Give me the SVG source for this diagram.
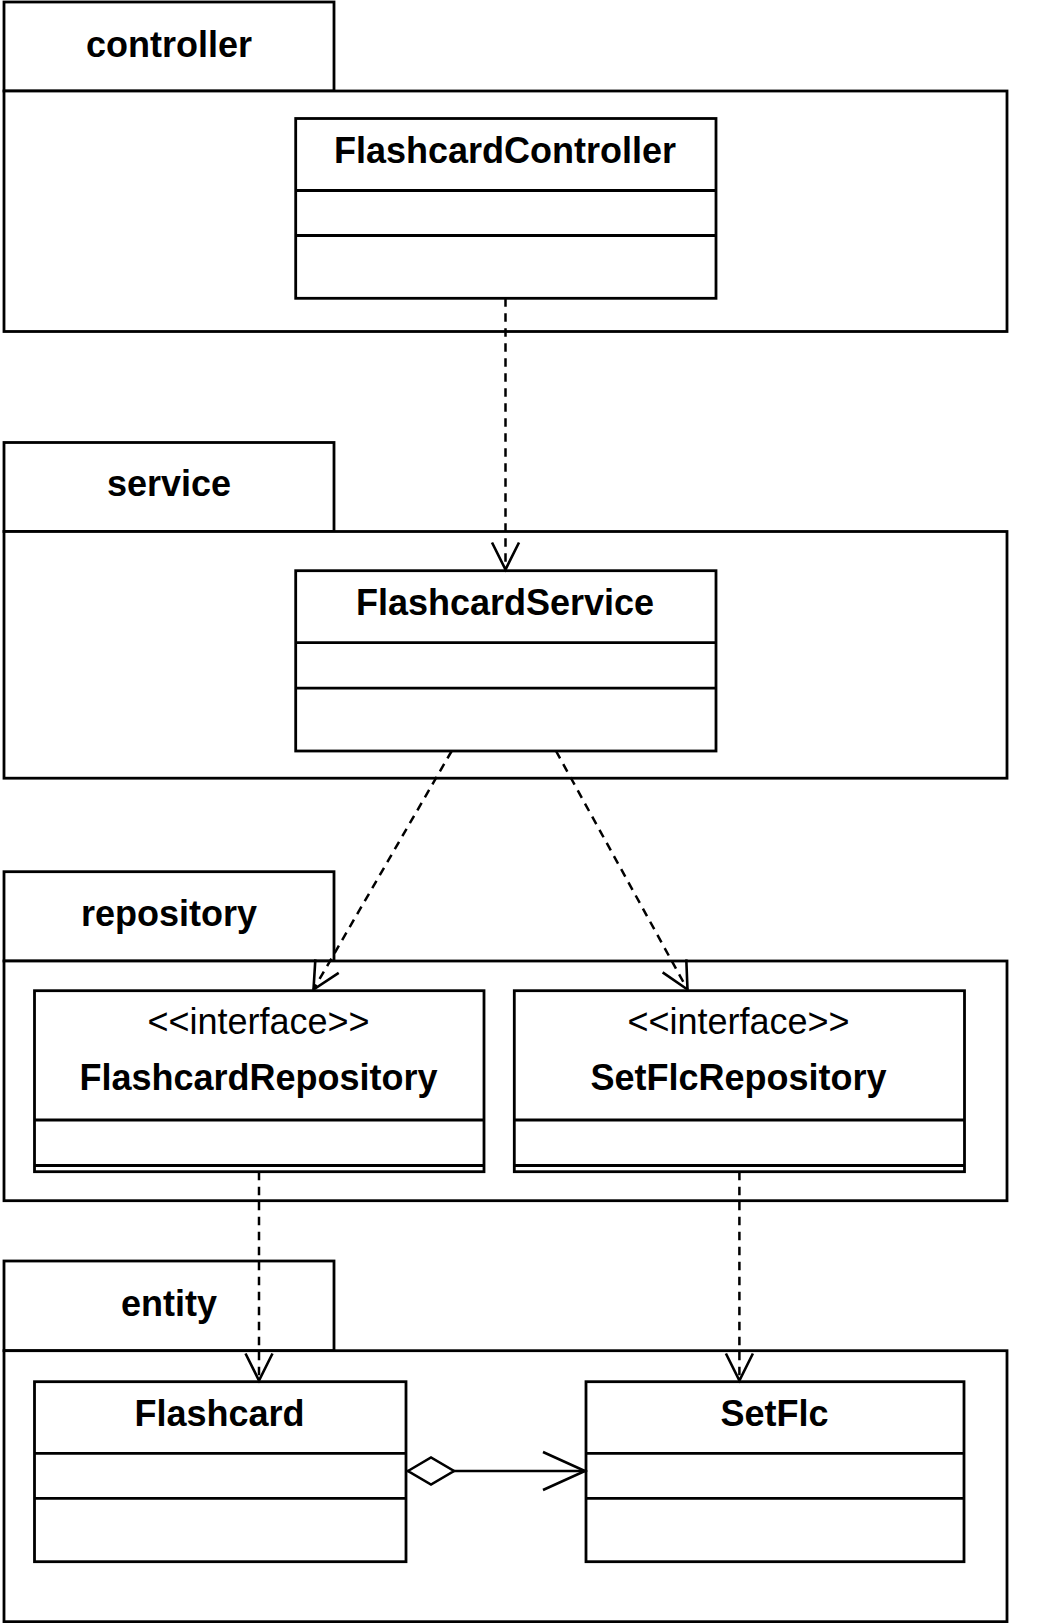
<svg xmlns="http://www.w3.org/2000/svg" width="1050" height="1623" viewBox="0 0 1050 1623">
<style>
.box{fill:#fff;stroke:#000;stroke-width:2.8}
.ln{fill:none;stroke:#000;stroke-width:2.8}
.t{font-family:"Liberation Sans",Arial,sans-serif;font-size:36px;fill:#000;text-anchor:middle}
.b{font-weight:bold}
.dep{fill:none;stroke:#000;stroke-width:2.5;stroke-dasharray:8.5 6.5}
.assoc{fill:none;stroke:#000;stroke-width:2.5}
</style>
<defs>
<marker id="open" markerUnits="userSpaceOnUse" viewBox="-30 -16 32 32" refX="0" refY="0" markerWidth="32" markerHeight="32" orient="auto" overflow="visible">
<path d="M-27 -13.5 L0 0 L-27 13.5" fill="none" stroke="#000" stroke-width="2.6" stroke-dasharray="none"/>
</marker>
<marker id="openBig" markerUnits="userSpaceOnUse" viewBox="-44 -21 46 42" refX="0" refY="0" markerWidth="46" markerHeight="42" orient="auto" overflow="visible">
<path d="M-42 -19 L0 0 L-42 19" fill="none" stroke="#000" stroke-width="2.6"/>
</marker>
<marker id="diamond" markerUnits="userSpaceOnUse" viewBox="-2 -16 52 32" refX="0" refY="0" markerWidth="52" markerHeight="32" orient="auto" overflow="visible">
<path d="M2 0 L25 -13.5 L48 0 L25 13.5 Z" fill="#fff" stroke="#000" stroke-width="2.6"/>
</marker>
</defs>
<rect width="1050" height="1623" fill="#fff"/>

<g id="pkg-controller">
<rect class="box" x="4" y="2" width="330" height="89"/>
<rect class="box" x="4" y="91" width="1003" height="240.5"/>
<text class="t b" x="169" y="56.5">controller</text>
</g>
<g id="pkg-service">
<rect class="box" x="4" y="442.5" width="330" height="89"/>
<rect class="box" x="4" y="531.5" width="1003" height="246.7"/>
<text class="t b" x="169" y="496">service</text>
</g>
<g id="pkg-repository">
<rect class="box" x="4" y="871.7" width="330" height="89.3"/>
<rect class="box" x="4" y="961" width="1003" height="239.7"/>
<text class="t b" x="169" y="926">repository</text>
</g>
<g id="pkg-entity">
<rect class="box" x="4" y="1261" width="330" height="89.7"/>
<rect class="box" x="4" y="1350.7" width="1003" height="271"/>
<text class="t b" x="169" y="1316">entity</text>
</g>

<g id="FlashcardController">
<rect class="box" x="295.7" y="118.5" width="420.3" height="179.8"/>
<line class="ln" x1="295.7" y1="190.5" x2="716" y2="190.5"/>
<line class="ln" x1="295.7" y1="235.5" x2="716" y2="235.5"/>
<text class="t b" x="505" y="162.5">FlashcardController</text>
</g>
<g id="FlashcardService">
<rect class="box" x="295.7" y="570.7" width="420.3" height="180.3"/>
<line class="ln" x1="295.7" y1="642.7" x2="716" y2="642.7"/>
<line class="ln" x1="295.7" y1="688.2" x2="716" y2="688.2"/>
<text class="t b" x="505" y="614.7">FlashcardService</text>
</g>
<g id="FlashcardRepository">
<rect class="box" x="34.5" y="990.7" width="449.5" height="181"/>
<line class="ln" x1="34.5" y1="1120" x2="484" y2="1120"/>
<line class="ln" x1="34.5" y1="1165.5" x2="484" y2="1165.5"/>
<text class="t" x="258.5" y="1034">&lt;&lt;interface&gt;&gt;</text>
<text class="t b" x="258.5" y="1090">FlashcardRepository</text>
</g>
<g id="SetFlcRepository">
<rect class="box" x="514.3" y="990.7" width="450.2" height="181"/>
<line class="ln" x1="514.3" y1="1120" x2="964.5" y2="1120"/>
<line class="ln" x1="514.3" y1="1165.5" x2="964.5" y2="1165.5"/>
<text class="t" x="738.5" y="1034">&lt;&lt;interface&gt;&gt;</text>
<text class="t b" x="738.5" y="1090">SetFlcRepository</text>
</g>
<g id="Flashcard">
<rect class="box" x="34.5" y="1381.7" width="371.5" height="180"/>
<line class="ln" x1="34.5" y1="1453.3" x2="406" y2="1453.3"/>
<line class="ln" x1="34.5" y1="1498.3" x2="406" y2="1498.3"/>
<text class="t b" x="219.5" y="1425.5">Flashcard</text>
</g>
<g id="SetFlc">
<rect class="box" x="586" y="1381.7" width="378" height="180"/>
<line class="ln" x1="586" y1="1453.3" x2="964" y2="1453.3"/>
<line class="ln" x1="586" y1="1498.3" x2="964" y2="1498.3"/>
<text class="t b" x="774.5" y="1425.5">SetFlc</text>
</g>

<g id="connectors">
<path class="dep" d="M505.5 298.3 L505.5 569.5" marker-end="url(#open)"/>
<path class="dep" d="M451.7 751 L313.5 989.5" marker-end="url(#open)"/>
<path class="dep" d="M556 751 L687.5 989.5" marker-end="url(#open)"/>
<path class="dep" d="M259 1171.7 L259 1380.5" marker-end="url(#open)"/>
<path class="dep" d="M739.4 1171.7 L739.4 1380.5" marker-end="url(#open)"/>
<path class="assoc" d="M406 1471 L585 1471" marker-start="url(#diamond)" marker-end="url(#openBig)"/>
</g>
</svg>
